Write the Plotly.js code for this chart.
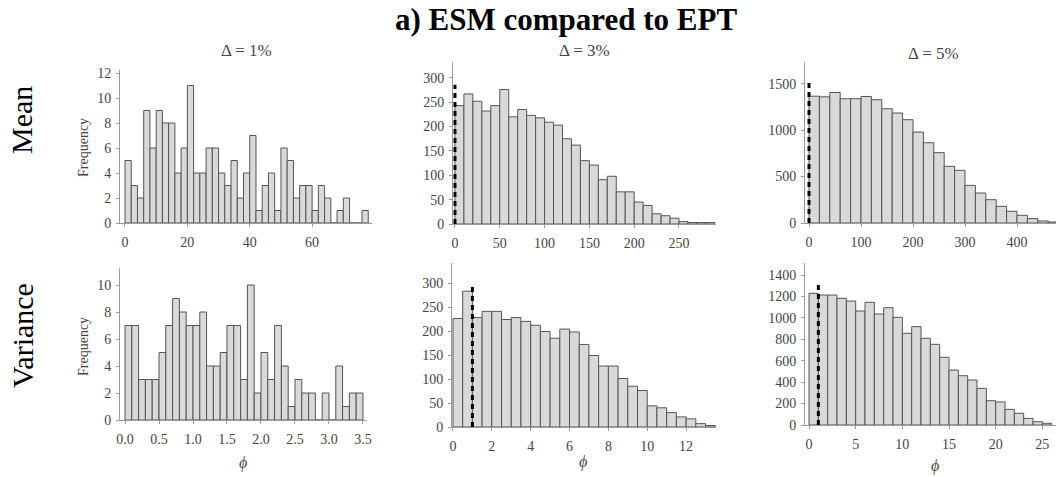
<!DOCTYPE html>
<html>
<head>
<meta charset="utf-8">
<script src="https://cdn.plot.ly/plotly-3.0.1.min.js"></script>
<style>
  html, body { margin: 0; padding: 0; background: #fff; }
  #chart { width: 1056px; height: 477px; }
</style>
</head>
<body>
<div id="chart"></div>
<script>
// Histogram counts of phi, one array per panel (bins start at 0)
const meanD1Counts = [5, 3, 2, 9, 6, 9, 8, 8, 4, 6, 11, 4, 4, 6, 6, 4, 3, 5, 2, 4,
                      7, 1, 3, 4, 1, 6, 5, 2, 3, 3, 1, 3, 2, 0, 1, 2, 0, 0, 1];
const meanD3Counts = [243, 267, 252, 232, 243, 276, 220, 235, 223, 218, 209, 203, 175, 162, 130,
                      121, 91, 98, 66, 66, 45, 38, 21, 17, 12, 5, 3, 3, 3];
const meanD5Counts = [1365, 1358, 1405, 1338, 1338, 1362, 1327, 1230, 1184, 1112, 979, 864,
                      757, 610, 567, 405, 323, 251, 179, 126, 83, 47, 22, 11];
const varD1Counts  = [7, 7, 3, 3, 3, 5, 7, 9, 8, 7, 7, 8, 4, 4, 5, 7, 7, 3, 10, 2,
                      5, 3, 7, 4, 1, 3, 2, 2, 0, 2, 0, 4, 1, 2, 2];
const varD3Counts  = [226, 283, 228, 241, 241, 224, 228, 220, 212, 199, 185, 204, 198, 172,
                      149, 127, 127, 101, 85, 76, 44, 40, 30, 21, 17, 7, 3];
const varD5Counts  = [1229, 1213, 1213, 1182, 1157, 1064, 1145, 1036, 1095, 1005, 856, 918,
                      809, 753, 632, 513, 460, 420, 342, 227, 215, 146, 109, 62, 31, 16];

// Bin widths per panel
const meanBinWidths = [2, 10, 20];
const varBinWidths  = [0.1, 0.5, 1];

// Reference phi drawn as a dashed vertical line (null = none) and its height
const meanRefPhi = [null, 0, 0];
const meanRefTop = [null, 286, 1520];
const varRefPhi  = [null, 1, 1];
const varRefTop  = [null, 296, 1326];

// Tick values
const meanXTicks = [[0, 20, 40, 60], [0, 50, 100, 150, 200, 250], [0, 100, 200, 300, 400]];
const meanYTicks = [[0, 2, 4, 6, 8, 10, 12], [0, 50, 100, 150, 200, 250, 300], [0, 500, 1000, 1500]];
const varXTicks  = [[0, 0.5, 1, 1.5, 2, 2.5, 3, 3.5], [0, 2, 4, 6, 8, 10, 12], [0, 5, 10, 15, 20, 25]];
const varYTicks  = [[0, 2, 4, 6, 8, 10], [0, 50, 100, 150, 200, 250, 300], [0, 200, 400, 600, 800, 1000, 1200, 1400]];

// Labels
const chartTitle = 'a) ESM compared to EPT';
const rowLabels = ['Mean', 'Variance'];
const colLabels = ['Δ = 1%', 'Δ = 3%', 'Δ = 5%'];
const yLabel = 'Frequency';
const xLabel = 'ϕ';

// ---- layout geometry (pixels) ----
const W = 1056, H = 477;
const px = v => v / W;
const py = v => 1 - v / H;

// each panel: pixel box plus data range
const panels = [
  { counts: meanD1Counts, bw: meanBinWidths[0], ref: meanRefPhi[0], top: meanRefTop[0],
    box: [120, 372, 70, 223],  xr: [-1.6, 79.2],  yr: [0, 12.24], xt: meanXTicks[0], yt: meanYTicks[0], fmt: '' },
  { counts: meanD3Counts, bw: meanBinWidths[1], ref: meanRefPhi[1], top: meanRefTop[1],
    box: [453, 716, 62, 224],  xr: [-2.2, 291.3], yr: [0, 332.6], xt: meanXTicks[1], yt: meanYTicks[1], fmt: '' },
  { counts: meanD5Counts, bw: meanBinWidths[2], ref: meanRefPhi[2], top: meanRefTop[2],
    box: [805, 1056, 62, 223], xr: [-7.7, 475],   yr: [0, 1733],  xt: meanXTicks[2], yt: meanYTicks[2], fmt: '' },
  { counts: varD1Counts,  bw: varBinWidths[0],  ref: varRefPhi[0],  top: varRefTop[0],
    box: [120, 367, 268, 420], xr: [-0.0735, 3.559], yr: [0, 11.26], xt: varXTicks[0], yt: varYTicks[0], fmt: '.1f' },
  { counts: varD3Counts,  bw: varBinWidths[1],  ref: varRefPhi[1],  top: varRefTop[1],
    box: [452, 716, 263, 427], xr: [-0.05, 13.54], yr: [0, 341.7], xt: varXTicks[1], yt: varYTicks[1], fmt: '' },
  { counts: varD5Counts,  bw: varBinWidths[2],  ref: varRefPhi[2],  top: varRefTop[2],
    box: [805, 1056, 263, 425], xr: [-0.43, 26.46], yr: [0, 1512], xt: varXTicks[2], yt: varYTicks[2], fmt: '' }
];

const serif = 'Liberation Serif, Times New Roman, serif';
const tickFont = { family: serif, size: 14, color: '#444' };

const data = [];
const layout = {
  width: W, height: H,
  margin: { l: 0, r: 0, t: 0, b: 0 },
  paper_bgcolor: '#fff', plot_bgcolor: 'rgba(0,0,0,0)',
  showlegend: false,
  bargap: 0,
  annotations: []
};

panels.forEach((p, i) => {
  const n = i + 1;
  const xa = n === 1 ? 'x' : 'x' + n;
  const ya = n === 1 ? 'y' : 'y' + n;
  const centers = p.counts.map((_, k) => (k + 0.5) * p.bw);

  data.push({
    type: 'bar', x: centers, y: p.counts, width: p.bw,
    xaxis: xa, yaxis: ya,
    marker: { color: '#d9d9d9', line: { color: '#555', width: 1 } },
    hoverinfo: 'skip'
  });

  if (p.ref !== null) {
    data.push({
      type: 'scatter', mode: 'lines', x: [p.ref, p.ref], y: [0, p.top],
      xaxis: xa, yaxis: ya,
      line: { color: '#000', width: 3, dash: '5px,4px' },
      hoverinfo: 'skip'
    });
  }

  const axisCommon = {
    showline: true, linecolor: '#9a9a9a', linewidth: 1,
    ticks: 'outside', ticklen: 3, tickcolor: '#9a9a9a',
    showgrid: false, zeroline: false, tickfont: tickFont, fixedrange: true
  };
  layout['xaxis' + (n === 1 ? '' : n)] = Object.assign({}, axisCommon, {
    domain: [px(p.box[0]), px(p.box[1])], range: p.xr, anchor: ya,
    tickmode: 'array', tickvals: p.xt, tickformat: p.fmt, ticklabelstandoff: 3
  });
  layout['yaxis' + (n === 1 ? '' : n)] = Object.assign({}, axisCommon, {
    domain: [py(p.box[3]), py(p.box[2])], range: p.yr, anchor: xa,
    tickmode: 'array', tickvals: p.yt, ticklabelstandoff: 2
  });
});

const ann = (text, x, y, size, opts) => Object.assign({
  text, x: px(x), y: py(y), xref: 'paper', yref: 'paper',
  xanchor: 'center', yanchor: 'middle', showarrow: false,
  font: { family: serif, size, color: '#444' }
}, opts || {});

const blackFont = size => ({ family: serif, size, color: '#000' });
layout.annotations.push(ann('<b>' + chartTitle + '</b>', 566, 19, 31, { font: blackFont(31) }));
layout.annotations.push(ann(rowLabels[0], 22, 120, 30, { textangle: -90, font: blackFont(30) }));
layout.annotations.push(ann(rowLabels[1], 22, 336, 30, { textangle: -90, font: blackFont(30) }));
layout.annotations.push(ann(yLabel, 83, 148, 14, { textangle: -90 }));
layout.annotations.push(ann(yLabel, 83, 347, 14, { textangle: -90 }));
layout.annotations.push(ann(colLabels[0], 246, 51, 17));
layout.annotations.push(ann(colLabels[1], 584, 50, 17));
layout.annotations.push(ann(colLabels[2], 933, 54, 17));
[[243, 463], [583, 462], [935, 466]].forEach(([x, y]) => {
  layout.annotations.push(ann('<i>' + xLabel + '</i>', x, y, 16));
});

Plotly.newPlot('chart', data, layout, { staticPlot: true, displayModeBar: false });
</script>
</body>
</html>
